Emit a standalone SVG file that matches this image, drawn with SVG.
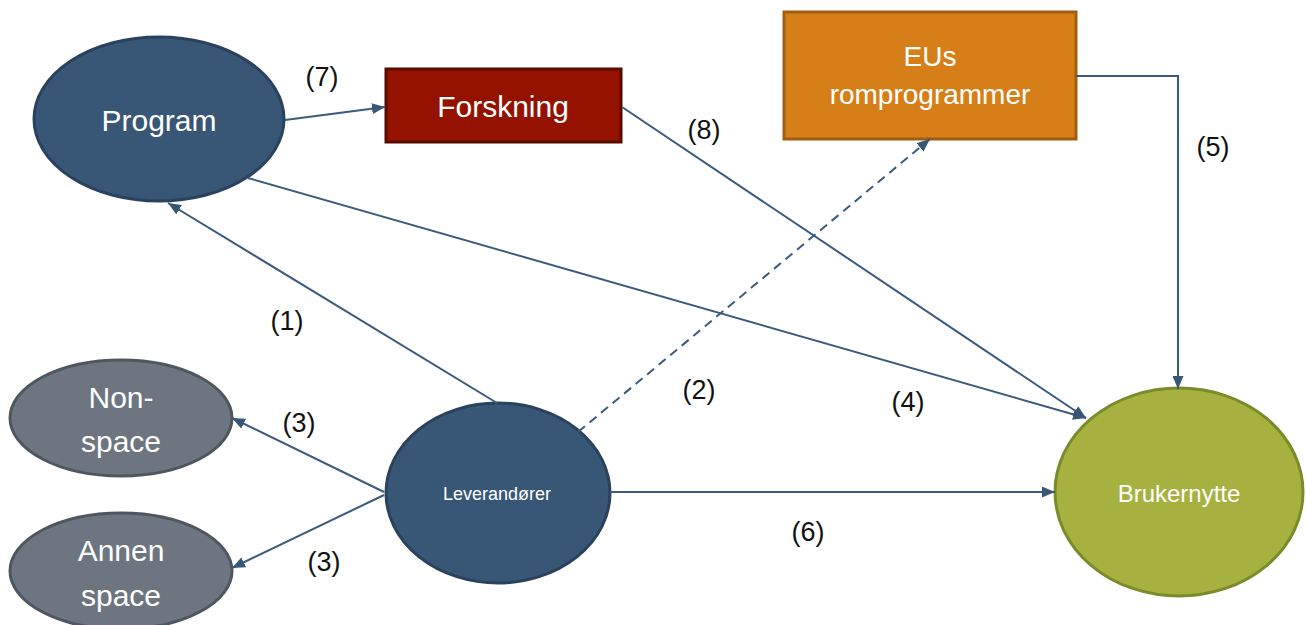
<svg xmlns="http://www.w3.org/2000/svg" width="1306" height="625" viewBox="0 0 1306 625">
<defs>
<marker id="ah" markerUnits="userSpaceOnUse" markerWidth="13" markerHeight="11" refX="13" refY="5.5" orient="auto">
<path d="M0,0 L13,5.5 L0,11 z" fill="#375777"/>
</marker>
<style>
.t{font-family:"Liberation Sans",Arial,sans-serif;fill:#ffffff;text-anchor:middle}
.lb{font-family:"Liberation Sans",Arial,sans-serif;fill:#111111;text-anchor:middle;font-size:27px}
.c{fill:none;stroke:#3b5a7c;stroke-width:2}
.blue{fill:#385675;stroke:#2a425c;stroke-width:3}
.grey{fill:#6d7580;stroke:#4e565f;stroke-width:3}
</style>
</defs>
<rect width="1306" height="625" fill="#ffffff"/>
<g id="program">
<ellipse class="blue" cx="159" cy="119" rx="125" ry="82"/>
<text class="t" x="159" y="131" font-size="30">Program</text>
</g>
<g id="forskning">
<rect x="386" y="69" width="235" height="73" fill="#951200" stroke="#5a0b00" stroke-width="3"/>
<text class="t" x="503" y="117" font-size="30">Forskning</text>
</g>
<g id="eus">
<rect x="784" y="12" width="292" height="127" fill="#d67f18" stroke="#a15e10" stroke-width="3"/>
<text class="t" x="930" y="66" font-size="28">EUs</text>
<text class="t" x="930" y="104" font-size="28">romprogrammer</text>
</g>
<g id="nonspace">
<ellipse class="grey" cx="121" cy="418" rx="111" ry="58"/>
<text class="t" x="121" y="408" font-size="30">Non-</text>
<text class="t" x="121" y="452" font-size="30">space</text>
</g>
<g id="annenspace">
<ellipse class="grey" cx="121" cy="571" rx="111" ry="58"/>
<text class="t" x="121" y="561" font-size="30">Annen</text>
<text class="t" x="121" y="606" font-size="30">space</text>
</g>
<g id="leverandorer">
<ellipse class="blue" cx="498" cy="493" rx="112" ry="90"/>
<text class="t" x="497" y="500" font-size="18">Leverandører</text>
</g>
<g id="brukernytte">
<ellipse cx="1179" cy="492" rx="124" ry="104" fill="#a6b13f" stroke="#7b8a2a" stroke-width="3"/>
<text class="t" x="1179" y="502" font-size="24">Brukernytte</text>
</g>
<g id="connectors">
<path class="c" d="M497,403 L168,203" marker-end="url(#ah)"/>
<path class="c" d="M285,120 L385,107" marker-end="url(#ah)"/>
<path class="c" d="M248,178 L1086,418" marker-end="url(#ah)"/>
<path class="c" d="M622,107 L1086,418" marker-end="url(#ah)"/>
<path class="c" d="M1076,76 H1178 V389" marker-end="url(#ah)"/>
<path class="c" d="M578,432 L930,139" stroke-dasharray="9,6" marker-end="url(#ah)"/>
<path class="c" d="M384,492 L232,418" marker-end="url(#ah)"/>
<path class="c" d="M384,495 L232,568" marker-end="url(#ah)"/>
<path class="c" d="M610,492 L1055,492" marker-end="url(#ah)"/>
</g>
<g id="labels">
<text class="lb" x="322" y="86">(7)</text>
<text class="lb" x="704" y="139">(8)</text>
<text class="lb" x="1213" y="156">(5)</text>
<text class="lb" x="287" y="330">(1)</text>
<text class="lb" x="699" y="399">(2)</text>
<text class="lb" x="908" y="411">(4)</text>
<text class="lb" x="299" y="432">(3)</text>
<text class="lb" x="324" y="571">(3)</text>
<text class="lb" x="808" y="541">(6)</text>
</g>
</svg>
